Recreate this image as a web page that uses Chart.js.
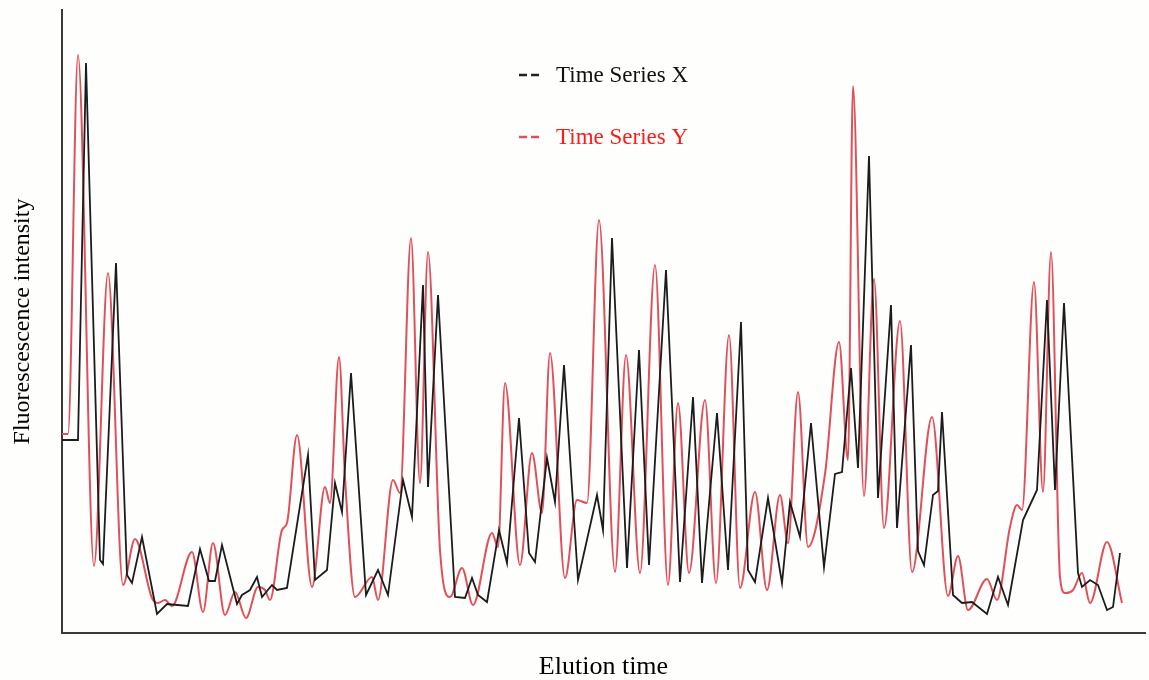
<!DOCTYPE html>
<html>
<head>
<meta charset="utf-8">
<title>Elution profile</title>
<script src="https://cdn.jsdelivr.net/npm/chart.js@4/dist/chart.umd.min.js"></script>
<style>
  html, body { margin: 0; padding: 0; background: #fefefc; }
  canvas { display: block; }
</style>
</head>
<body>
<canvas id="elutionChart" width="1149" height="680"></canvas>
<script>
// elution time (arbitrary units) and fluorescence intensity (arbitrary units)
const seriesXTime = [0,16,24,38,41,54,65,70,80,95,105,126,138,147,153,160,175,180,188,195,200,210,215,225,
  246,253,265,273,280,289,304,316,326,341,350,361,366,376,393,403,410,416,425,437,445,457,467,473,485,493,
  502,516,535,541,550,565,577,587,604,618,631,640,655,666,679,686,693,706,720,728,738,749,762,773,780,789,
  796,807,816,829,835,849,856,862,871,876,880,891,900,910,925,936,946,961,968,975,985,993,1002,1016,1020,
  1028,1036,1045,1051,1058];
const seriesXIntensity = [193,193,570,73,69,370,58,50,96,19,29,27,84,52,52,88,29,38,43,56,36,48,43,45,
  178,53,63,150,121,260,38,63,38,153,116,348,146,338,36,35,55,38,31,103,70,215,80,71,175,131,
  268,53,138,103,395,65,283,68,363,51,236,50,220,63,311,63,51,135,50,131,96,210,66,159,161,265,
  165,477,135,328,105,288,82,68,138,142,221,38,30,31,19,56,28,113,128,143,333,143,330,60,46,
  53,48,23,26,80];

const seriesYTime = [0,6,16,32,46,61,73,90,96,103,110,130,141,151,163,173,184,196,203,208,220,225,235,250,
  263,268,277,283,293,310,316,331,338,349,358,366,378,388,400,411,430,436,443,458,470,480,488,503,515,525,
  537,553,564,578,593,606,616,627,643,654,667,678,693,705,718,726,736,746,763,777,786,791,802,812,822,838,
  850,870,886,896,906,925,935,948,955,960,972,981,989,998,1003,1011,1020,1028,1045,1060];
const seriesYIntensity = [199,199,578,67,360,48,94,35,30,33,27,81,21,90,18,41,15,46,43,33,103,110,198,46,
  146,130,276,156,36,56,33,153,140,395,150,381,83,36,65,28,100,86,250,68,180,120,280,55,133,130,
  413,61,278,60,368,48,230,60,233,50,298,45,141,43,138,90,241,86,159,291,173,547,137,354,105,312,
  61,216,37,77,23,54,33,106,128,123,351,141,381,56,40,43,60,30,91,30];

const seriesNames = ['Time Series X', 'Time Series Y'];
const axisTitles = ['Elution time', 'Fluorescescence intensity'];

const toPoints = (xs, ys) => xs.map((x, i) => ({ x: x, y: ys[i] }));

const serif = "'Liberation Serif', 'Times New Roman', serif";

const backgroundFill = {
  id: 'backgroundFill',
  beforeDraw(chart) {
    const ctx = chart.ctx;
    ctx.save();
    ctx.fillStyle = '#fefefc';
    ctx.fillRect(0, 0, chart.width, chart.height);
    ctx.restore();
  }
};

// legend drawn by hand inside the plot, like the original figure
const seriesLegend = {
  id: 'seriesLegend',
  afterDraw(chart) {
    const ctx = chart.ctx;
    const area = chart.chartArea;
    const x0 = area.left + 457;
    const rows = [
      { label: seriesNames[0], line: '#222222', text: '#111111', y: area.top + 65 },
      { label: seriesNames[1], line: '#e0505a', text: '#ff1a1a', y: area.top + 127 }
    ];
    ctx.save();
    rows.forEach(r => {
      ctx.strokeStyle = r.line;
      ctx.lineWidth = 2.5;
      ctx.setLineDash([8, 4]);
      ctx.beginPath();
      ctx.moveTo(x0, r.y);
      ctx.lineTo(x0 + 21, r.y);
      ctx.stroke();
      ctx.setLineDash([]);
      ctx.fillStyle = r.text;
      ctx.font = '23px ' + serif;
      ctx.textBaseline = 'middle';
      ctx.fillText(r.label, x0 + 37, r.y + 1);
    });
    ctx.restore();
  }
};

new Chart(document.getElementById('elutionChart').getContext('2d'), {
  type: 'line',
  data: {
    datasets: [
      {
        label: seriesNames[0],
        data: toPoints(seriesXTime, seriesXIntensity),
        borderColor: '#1c1c1c',
        borderWidth: 1.8,
        pointRadius: 0,
        tension: 0,
        order: 0
      },
      {
        label: seriesNames[1],
        data: toPoints(seriesYTime, seriesYIntensity),
        borderColor: '#e0505a',
        borderWidth: 2,
        pointRadius: 0,
        cubicInterpolationMode: 'monotone',
        order: 1
      }
    ]
  },
  options: {
    responsive: false,
    animation: false,
    layout: { padding: { top: 10, right: 4, left: 0, bottom: 0 } },
    plugins: {
      legend: { display: false },
      tooltip: { enabled: false }
    },
    scales: {
      x: {
        type: 'linear',
        min: 0,
        max: 1083,
        grid: { display: false, drawTicks: false },
        border: { display: true, color: '#3a3a3a', width: 2 },
        ticks: { display: false },
        title: {
          display: true,
          text: axisTitles[0],
          color: '#000',
          font: { family: serif, size: 26, lineHeight: 1 },
          padding: { top: 21, bottom: 0 }
        }
      },
      y: {
        min: 0,
        max: 623,
        grid: { display: false, drawTicks: false },
        border: { display: true, color: '#3a3a3a', width: 2 },
        ticks: { display: false },
        title: {
          display: true,
          text: axisTitles[1],
          color: '#000',
          font: { family: serif, size: 24, lineHeight: 1 },
          padding: { top: 11, bottom: 27 }
        }
      }
    }
  },
  plugins: [backgroundFill, seriesLegend]
});
</script>
</body>
</html>
